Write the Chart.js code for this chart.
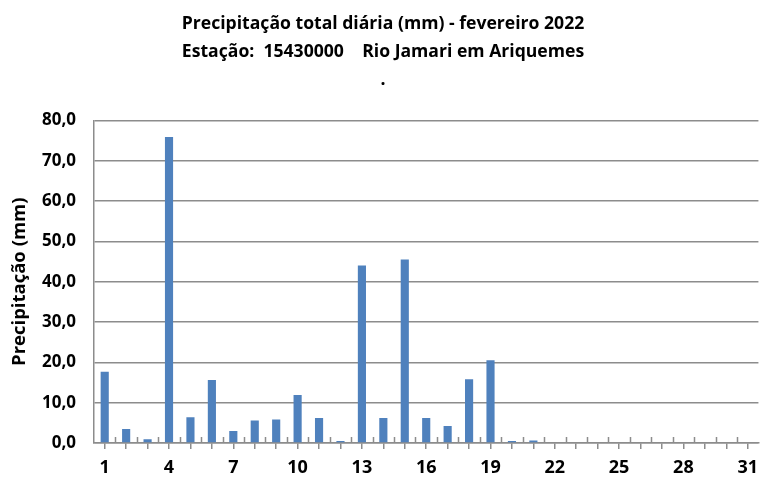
<!DOCTYPE html>
<html>
<head>
<meta charset="utf-8">
<script src="https://cdn.jsdelivr.net/npm/chart.js@4.4.1/dist/chart.umd.min.js"></script>
<style>
	html, body { margin: 0; padding: 0; background: #fff; }
	#wrap { width: 766px; height: 479px; }
</style>
</head>
<body>
<div id="wrap"><canvas id="chart"></canvas></div>
<script>
//  Days of the month shown on the axis (feb 2022 ends on 28)
const days = Array.from({length: 31}, (_, i) => `${i + 1}`)
//  Daily rainfall, in mm
const rainfall = [
	17.7, 3.5, 0.9, 75.9, 6.4, 15.6, 3.0, 5.6, 5.8, 11.9,
	6.2, 0.5, 44.0, 6.2, 45.5, 6.2, 4.2, 15.8, 20.5, 0.5,
	0.6, 0, 0, 0, 0, 0, 0, 0, null, null, null
]
const titleLines = [`Precipitação total diária (mm) - fevereiro 2022`, `Estação:  15430000    Rio Jamari em Ariquemes`, `.`]
const yTicks = [0, 10, 20, 30, 40, 50, 60, 70, 80]

const font = `Open Sans`
const gray = `#8c8c8c`

/**
 * Draws the small upward marks that sit between categories on the x axis.
 */
const boundaryMarks = {
	id: `boundaryMarks`,
	afterDatasetsDraw(chart) {
		const {ctx, scales: {x}} = chart
		const step = x.getPixelForValue(1) - x.getPixelForValue(0)
		const base = chart.chartArea.bottom
		ctx.save()
		ctx.strokeStyle = gray
		ctx.lineWidth = 1.5
		ctx.beginPath()
		for (let i = 1; i < days.length; i++) {
			const px = Math.round(x.getPixelForValue(i) - step / 2) + 0.5
			ctx.moveTo(px, base)
			ctx.lineTo(px, base - 6)
		}
		ctx.stroke()
		ctx.restore()
	}
}

new Chart(document.getElementById(`chart`), {
	type: `bar`,
	data: {
		labels: days,
		datasets: [{
			data: rainfall,
			backgroundColor: `#4f81bd`,
			borderWidth: 0,
			categoryPercentage: 1,
			barPercentage: 0.38
		}]
	},
	options: {
		responsive: true,
		maintainAspectRatio: false,
		animation: false,
		devicePixelRatio: 1,
		layout: {padding: {left: 0, right: 0, top: 10, bottom: 0}},
		plugins: {
			legend: {display: false},
			tooltip: {enabled: false},
			title: {
				display: true,
				text: titleLines,
				color: `#000`,
				font: {family: font, size: 17.6, weight: `bold`, lineHeight: 1.6},
				padding: {top: 0, bottom: 26}
			}
		},
		scales: {
			x: {
				grid: {display: true, offset: false, drawOnChartArea: false, drawTicks: true, tickLength: 6, color: gray, lineWidth: 1.5},
				border: {display: true, color: gray, width: 1.5},
				ticks: {
					autoSkip: false,
					maxRotation: 0,
					color: `#000`,
					font: {family: font, size: 18, weight: `bold`},
					padding: 8,
					callback: (v, i) => i % 3 === 0 ? days[i] : ``
				},
				afterFit: scale => { scale.height = 36 }
			},
			y: {
				min: 0,
				max: 80,
				afterBuildTicks: scale => { scale.ticks = yTicks.map(value => ({value})) },
				grid: {color: gray, lineWidth: 1.5, drawTicks: false},
				border: {display: true, color: gray, width: 1.5},
				ticks: {
					color: `#000`,
					font: {family: font, size: 17, weight: `bold`},
					padding: 18,
					callback: v => v.toFixed(1).replace(`.`, `,`)
				},
				title: {
					display: true,
					text: `Precipitação (mm)`,
					color: `#000`,
					font: {family: font, size: 18.5, weight: `bold`},
					padding: {top: 9, bottom: 0}
				},
				afterFit: scale => { scale.width = 94 }
			}
		}
	},
	plugins: [boundaryMarks]
})
</script>
</body>
</html>
